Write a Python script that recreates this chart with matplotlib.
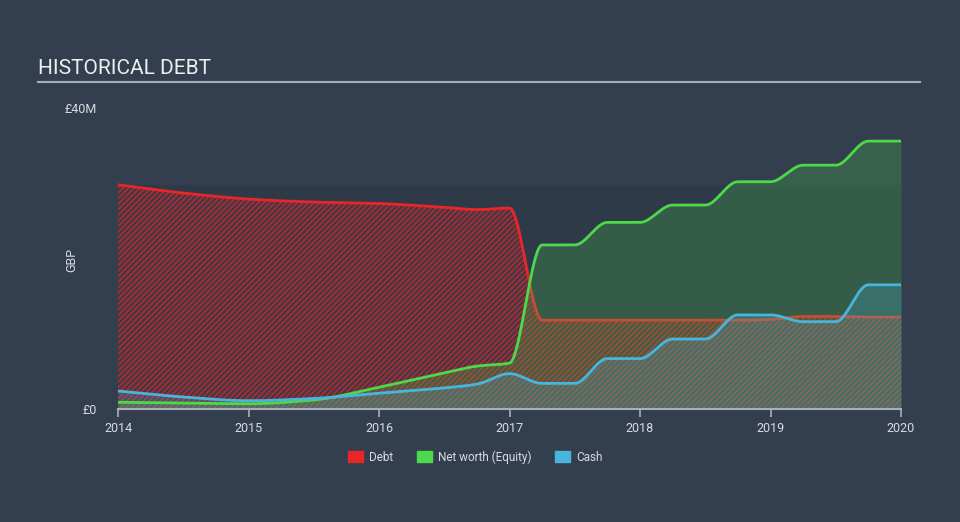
import numpy as np
import matplotlib
matplotlib.use('Agg')
import matplotlib.pyplot as plt
from matplotlib.patches import Patch

plt.rcParams['font.family'] = ['Roboto', 'DejaVu Sans']
plt.rcParams['hatch.linewidth'] = 1.4

# Data (GBP millions)
dates = [2014.0, 2014.5, 2015.0, 2015.5, 2016.0, 2016.5, 2016.75, 2017.0,
         2017.25, 2017.5, 2017.75, 2018.0, 2018.25, 2018.5, 2018.75, 2019.0,
         2019.25, 2019.5, 2019.75, 2020.0]
debt = [29.8, 28.7, 27.9, 27.5, 27.3, 26.8, 26.5, 26.7,
        11.8, 11.8, 11.8, 11.8, 11.8, 11.8, 11.8, 11.9,
        12.3, 12.3, 12.2, 12.2]
equity = [0.9, 0.8, 0.7, 1.2, 2.9, 4.8, 5.7, 6.1,
          21.8, 21.8, 24.8, 24.8, 27.1, 27.1, 30.2, 30.2,
          32.4, 32.4, 35.6, 35.6]
cash = [2.4, 1.6, 1.1, 1.4, 2.1, 2.8, 3.3, 4.7,
        3.4, 3.4, 6.7, 6.7, 9.3, 9.3, 12.5, 12.5,
        11.6, 11.6, 16.5, 16.5]
year_ticks = [2014, 2015, 2016, 2017, 2018, 2019, 2020]

bg = '#333f4f'
red = '#e8262a'
green = '#4cd94a'
blue = '#48b6dc'


def monotone(x, y, n=40):
    # monotone cubic (Fritsch-Carlson) for drawing smooth curves
    x = np.asarray(x, float)
    y = np.asarray(y, float)
    h = np.diff(x)
    d = np.diff(y) / h
    m = np.zeros_like(y)
    m[0], m[-1] = d[0], d[-1]
    for i in range(1, len(y) - 1):
        if d[i - 1] * d[i] <= 0:
            m[i] = 0
        else:
            w1 = 2 * h[i] + h[i - 1]
            w2 = h[i] + 2 * h[i - 1]
            m[i] = (w1 + w2) / (w1 / d[i - 1] + w2 / d[i])
    xs, ys = [], []
    for i in range(len(h)):
        t = np.linspace(0, 1, n, endpoint=False)
        h00 = 2 * t**3 - 3 * t**2 + 1
        h10 = t**3 - 2 * t**2 + t
        h01 = -2 * t**3 + 3 * t**2
        h11 = t**3 - t**2
        xs.append(x[i] + t * h[i])
        ys.append(h00 * y[i] + h10 * h[i] * m[i] + h01 * y[i + 1] + h11 * h[i] * m[i + 1])
    xs.append([x[-1]])
    ys.append([y[-1]])
    return np.concatenate(xs), np.concatenate(ys)


fig = plt.figure(figsize=(9.6, 5.22), dpi=100, facecolor=bg)
ax = fig.add_axes([118 / 960, 1 - 409 / 522, 783 / 960, 301 / 522])
ax.set_facecolor(bg)

# slightly darker band behind the data
ax.fill_between([dates[0], dates[-1]], 0, max(debt), color='#2f3a49', lw=0, zorder=0)

xd, yd = monotone(dates, debt)
xe, ye = monotone(dates, equity)
xc, yc = monotone(dates, cash)

ax.fill_between(xd, 0, yd, facecolor=(0.91, 0.15, 0.16, 0.08),
                edgecolor=(0.91, 0.15, 0.16, 0.6), hatch='//////', lw=0, zorder=1)
ax.plot(xd, yd, color=red, lw=2, zorder=2)
ax.fill_between(xe, 0, ye, color=green, alpha=0.22, lw=0, zorder=3)
ax.fill_between(xc, 0, yc, color=blue, alpha=0.22, lw=0, zorder=3)
ax.plot(xe, ye, color=green, lw=2, zorder=4)
ax.plot(xc, yc, color=blue, lw=2, zorder=4)

ax.set_xlim(2014, 2020.0)
ax.set_ylim(0, 40)
ax.set_xticks(year_ticks)
ax.set_xticklabels([str(y) for y in year_ticks])
ax.set_yticks([0, 40])
ax.set_yticklabels(['£0', '£40M'])
ax.tick_params(axis='x', colors='#a8b0bb', labelcolor='#d8dce2', labelsize=9,
               length=6, width=1.2, pad=3)
ax.tick_params(axis='y', length=0, labelcolor='#d8dce2', labelsize=9, pad=15)
for side in ['top', 'right', 'left']:
    ax.spines[side].set_visible(False)
ax.spines['bottom'].set_color('#a8b0bb')
ax.spines['bottom'].set_linewidth(1.5)
ax.spines['bottom'].set_zorder(6)
ax.set_ylabel('GBP', color='#d8dce2', fontsize=9)
ax.yaxis.set_label_coords(-0.051, 0.495)

# title and rule
fig.text(38 / 960, 1 - 69 / 522, 'HISTORICAL DEBT', color='#eceef0', fontsize=15,
         va='center', ha='left')
fig.add_artist(plt.Line2D([38 / 960, 920 / 960], [1 - 82 / 522, 1 - 82 / 522],
                          color='#a8aeb8', lw=1.5))

handles = [Patch(color=red, label='Debt'),
           Patch(color=green, label='Net worth (Equity)'),
           Patch(color=blue, label='Cash')]
leg = fig.legend(handles=handles, loc='center', bbox_to_anchor=(0.495, 1 - 457 / 522),
                 ncol=3, frameon=False, fontsize=8.5, handlelength=1.3,
                 handleheight=1.0, columnspacing=2.0, handletextpad=0.5)
for t in leg.get_texts():
    t.set_color('#d8dce2')

fig.savefig('out.png', dpi=100, facecolor=bg)
